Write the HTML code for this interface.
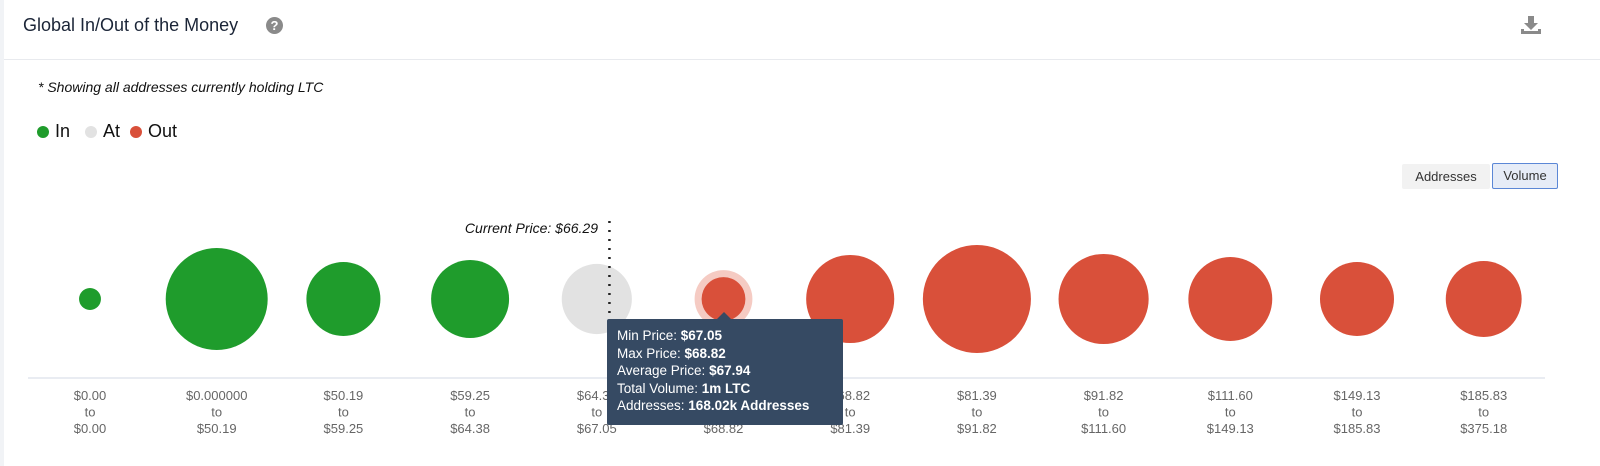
<!DOCTYPE html>
<html><head><meta charset="utf-8"><style>
body{margin:0;width:1600px;height:466px;background:#fff;font-family:"Liberation Sans",sans-serif;overflow:hidden;position:relative}
.abs{position:absolute}
</style></head><body>
<div class="abs" style="left:0;top:0;width:4px;height:466px;background:#f1f3f6"></div>
<div class="abs" style="left:23px;top:15px;font-size:18px;color:#1b2537">Global In/Out of the Money</div>
<div class="abs" style="left:266px;top:17px;width:17px;height:17px;border-radius:50%;background:#8a8a8a;color:#fff;font-size:13px;font-weight:bold;text-align:center;line-height:17px">?</div>
<svg class="abs" style="left:1520px;top:14px" width="22" height="22" viewBox="0 0 22 22"><path d="M8 2h6v7h4l-7 7-7-7h4z" fill="#8a8a8a"/><path d="M1 15v5h20v-5h-3v2H4v-2z" fill="#8a8a8a"/></svg>
<div class="abs" style="left:4px;top:59px;width:1596px;height:1px;background:#e8eaee"></div>
<div class="abs" style="left:38px;top:79px;font-size:14px;font-style:italic;color:#111">* Showing all addresses currently holding LTC</div>
<div class="abs" style="left:37px;top:121px;font-size:18px;color:#111;display:flex;align-items:center">
<span style="display:flex;align-items:center"><span style="width:12px;height:12px;border-radius:50%;background:#1f9c2c;margin-right:6px"></span>In</span>
<span style="display:flex;align-items:center;margin-left:15px"><span style="width:12px;height:12px;border-radius:50%;background:#e2e2e2;margin-right:6px"></span>At</span>
<span style="display:flex;align-items:center;margin-left:10px"><span style="width:12px;height:12px;border-radius:50%;background:#d9503a;margin-right:6px"></span>Out</span>
</div>
<div class="abs" style="left:1402px;top:164px;width:88px;height:25px;background:#f2f2f2;font-size:13px;color:#333;text-align:center;line-height:25px;border-radius:2px">Addresses</div>
<div class="abs" style="left:1492px;top:163px;width:64px;height:24px;background:#e6ecf7;border:1px solid #5b87d6;font-size:13px;color:#333;text-align:center;line-height:24px;border-radius:2px">Volume</div>
<svg id="chart" class="abs" style="left:0;top:0" width="1600" height="466"></svg>
<div class="abs" style="left:607px;top:319px;width:236px;height:106px;background:#364a63;border-radius:2px;color:#fff;font-size:13.5px;line-height:17.5px;padding:8px 0 0 10px;box-sizing:border-box">
Min Price: <b>$67.05</b><br>Max Price: <b>$68.82</b><br>Average Price: <b>$67.94</b><br>Total Volume: <b>1m LTC</b><br>Addresses: <b>168.02k Addresses</b></div>
<div class="abs" style="left:717px;top:312px;width:0;height:0;border-left:7px solid transparent;border-right:7px solid transparent;border-bottom:7px solid #364a63"></div>
<script>
const lows=["$0.00","$0.000000","$50.19","$59.25","$64.38","$67.05","$68.82","$81.39","$91.82","$111.60","$149.13","$185.83"];
const highs=["$0.00","$50.19","$59.25","$64.38","$67.05","$68.82","$81.39","$91.82","$111.60","$149.13","$185.83","$375.18"];
const volumes=[1.2,26,13.7,15.2,12.3,4.8,19.4,29.2,20.3,17.6,13.7,14.4];
const status=["in","in","in","in","at","out","out","out","out","out","out","out"];
const currentPrice=66.29;
const svg=document.getElementById('chart');const NS='http://www.w3.org/2000/svg';
const colors={in:'#1f9c2c',at:'#e2e2e2',out:'#d9503a'};
const x0=90,step=126.7,cy=299,axisY=378;
const xPos=i=>x0+i*step;
const rScale=v=>10*Math.sqrt(v);
function el(t,a){const e=document.createElementNS(NS,t);for(const k in a)e.setAttribute(k,a[k]);svg.appendChild(e);return e;}
const ax=el('line',{x1:28,x2:1545,y1:axisY,y2:axisY,stroke:'#d3d9e6'});


const hi=5;
const halo=el('circle',{cx:xPos(hi),cy:cy,r:rScale(volumes[hi])+7,fill:'#f5cbc3'});


volumes.forEach((v,i)=>{
 const c=el('circle',{cx:xPos(i),cy:cy,r:rScale(v),fill:colors[status[i]]});
 
 
 [lows[i],'to',highs[i]].forEach((t,j)=>{
  const tx=el('text',{x:xPos(i),y:400+j*16.5,'text-anchor':'middle','font-size':13,fill:'#666','font-family':'Liberation Sans, sans-serif'});
  tx.textContent=t;
  
  
 });
});
const px=xPos(4)+(currentPrice-64.38)/(67.05-64.38)*step-78;
const ln=el('line',{x1:px,x2:px,y1:221,y2:320,stroke:'#222','stroke-width':2.5,'stroke-dasharray':'2,7'});


const lt=el('text',{x:598,y:233,'text-anchor':'end','font-size':14,'font-style':'italic',fill:'#111','font-family':'Liberation Sans, sans-serif'});
lt.textContent='Current Price: $'+currentPrice.toFixed(2);


</script>
</body></html>
